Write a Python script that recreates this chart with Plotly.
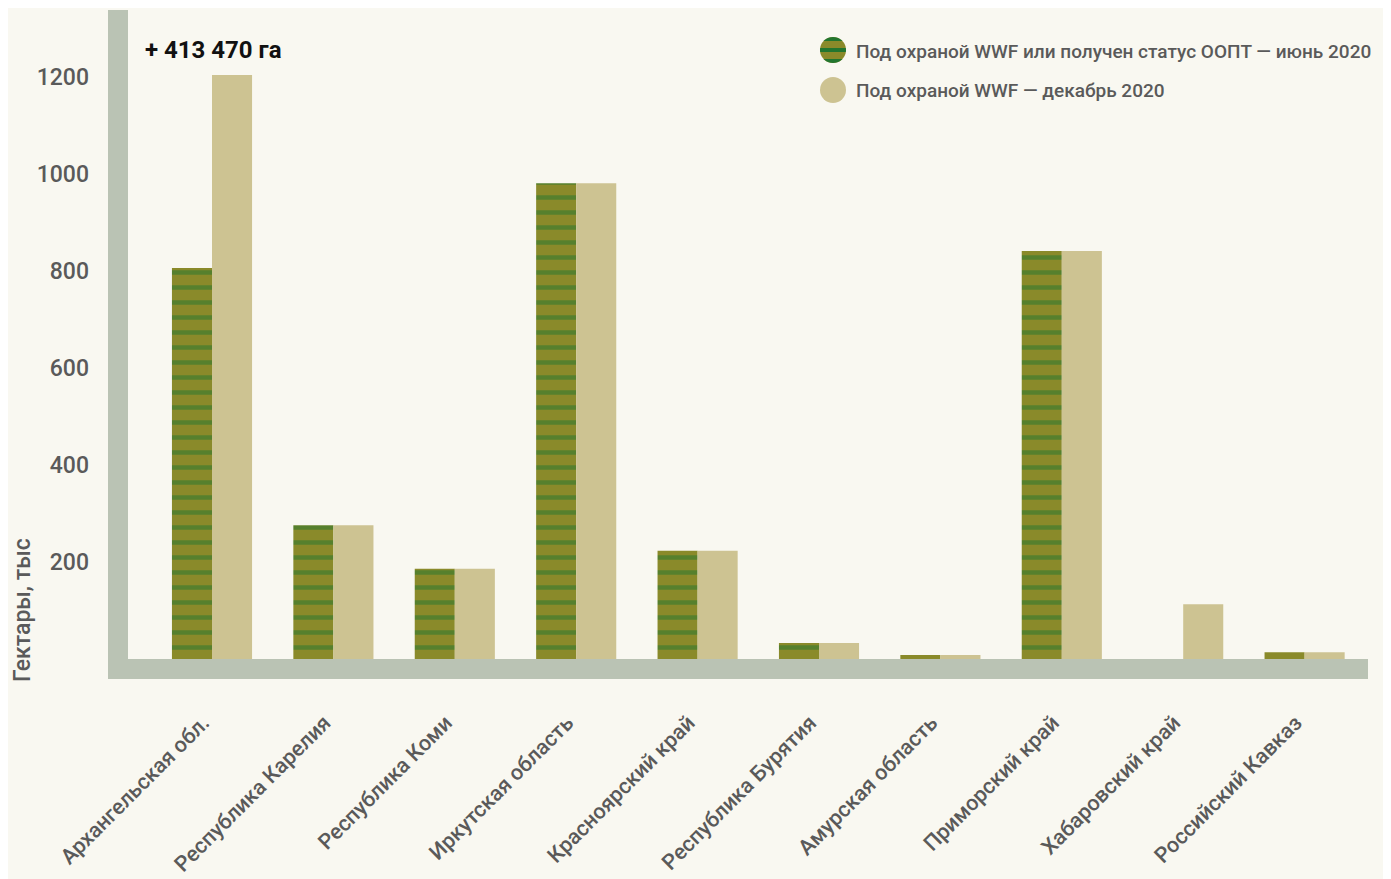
import math
import plotly.graph_objects as go

categories = ["Архангельская обл.", "Республика Карелия", "Республика Коми", "Иркутская область",
              "Красноярский край", "Республика Бурятия", "Амурская область", "Приморский край",
              "Хабаровский край", "Российский Кавказ"]
june_2020 = [806, 276, 186, 981, 223, 33, 8, 841, 0, 14]
dec_2020 = [1204, 276, 186, 981, 223, 33, 8, 841, 113, 14]
y_ticks = [200, 400, 600, 800, 1000, 1200]
legend_names = ["Под охраной WWF или получен статус ООПТ — июнь 2020", "Под охраной WWF — декабрь 2020"]
headline = "+ 413 470 га"
y_title = "Гектары, тыс"

FONT = "Roboto, Liberation Sans, sans-serif"
BG = "#f9f8f1"
AXIS = "#bac3b4"
OLIVE = "#8a8a2a"
GREEN = "#22762f"
TAN = "#cdc392"
TXT = "#5a5a5a"

# page body has an 8px margin: figure origin sits at (8, 8) on the page
W, H = 1383, 871
L, R, T, B = 120, 23, 2, 220
PW, PH = W - L - R, H - T - B   # 1240 x 649


def px(x):  # reference-picture x -> paper
    return (x - 128) / PW


def py(y):  # reference-picture y -> paper
    return (659 - y) / PH


fig = go.Figure()
fig.add_trace(go.Bar(x=categories, y=june_2020, name=legend_names[0], showlegend=False,
                     marker=dict(color=OLIVE, line=dict(width=0),
                                 pattern=dict(shape="-", fgcolor=GREEN, bgcolor=OLIVE,
                                              size=15, solidity=0.3))))
fig.add_trace(go.Bar(x=categories, y=dec_2020, name=legend_names[1], showlegend=False,
                     marker=dict(color=TAN, line=dict(width=0))))

shapes = [
    dict(type="rect", xref="paper", yref="paper", x0=px(108), x1=px(128), y0=py(679), y1=1,
         fillcolor=AXIS, line_width=0, layer="below"),
    dict(type="rect", xref="paper", yref="paper", x0=px(108), x1=1, y0=py(679), y1=0,
         fillcolor=AXIS, line_width=0, layer="below"),
]

# manual legend markers
r = 13
cx = px(833)
for cy_px, col in [(50, OLIVE), (90, TAN)]:
    shapes.append(dict(type="circle", xref="paper", yref="paper", xsizemode="pixel", ysizemode="pixel",
                       xanchor=cx, yanchor=py(cy_px), x0=-r, x1=r, y0=-r, y1=r,
                       fillcolor=col, line_width=0))


def band(ya, yb, n=10):
    pts = []
    for i in range(n + 1):
        yy = ya + (yb - ya) * i / n
        pts.append((-math.sqrt(max(r * r - yy * yy, 0)), yy))
    for i in range(n + 1):
        yy = yb + (ya - yb) * i / n
        pts.append((math.sqrt(max(r * r - yy * yy, 0)), yy))
    return "M " + " L ".join(f"{a:.2f},{b:.2f}" for a, b in pts) + " Z"


for ya, yb in [(9, 13), (-2, 2), (-13, -9)]:
    shapes.append(dict(type="path", xref="paper", yref="paper", xsizemode="pixel", ysizemode="pixel",
                       xanchor=cx, yanchor=py(50), path=band(ya, yb),
                       fillcolor=GREEN, line_width=0))

annotations = [
    dict(text=legend_names[0], xref="paper", yref="paper", x=px(854), y=py(51), xanchor="left",
         yanchor="middle", showarrow=False, font=dict(family=FONT, size=19, color=TXT, weight=500)),
    dict(text=legend_names[1], xref="paper", yref="paper", x=px(854), y=py(90), xanchor="left",
         yanchor="middle", showarrow=False, font=dict(family=FONT, size=19, color=TXT, weight=500)),
    dict(text="<b>" + headline + "</b>", xref="paper", yref="paper", x=px(143), y=py(50), xanchor="left",
         yanchor="middle", showarrow=False, font=dict(family=FONT, size=24, color="#111111")),
    dict(text=y_title, xref="paper", yref="paper", x=px(22), y=py(610), xanchor="center",
         yanchor="middle", textangle=-90, showarrow=False,
         font=dict(family=FONT, size=23, color=TXT, weight=500)),
]

fig.update_layout(
    width=W, height=H,
    margin=dict(l=L, r=R, t=T, b=B, pad=0),
    paper_bgcolor=BG, plot_bgcolor=BG,
    barmode="group", bargap=0.34, bargroupgap=0,
    showlegend=False,
    shapes=shapes, annotations=annotations,
    xaxis=dict(range=[(128 - 212) / 121.4, (1368 - 212) / 121.4], showgrid=False, zeroline=False,
               showline=False, tickangle=-45, ticklabelstandoff=46, ticklabelshift=-9,
               automargin=False,
               tickfont=dict(family=FONT, size=21.5, color=TXT, weight=500)),
    yaxis=dict(range=[0, (659 - 10) / 0.485], tickvals=y_ticks, showgrid=False, zeroline=False,
               showline=False, ticklabelstandoff=38, automargin=False,
               tickfont=dict(family=FONT, size=23, color=TXT, weight=500)),
)

fig.write_html("out.html")
